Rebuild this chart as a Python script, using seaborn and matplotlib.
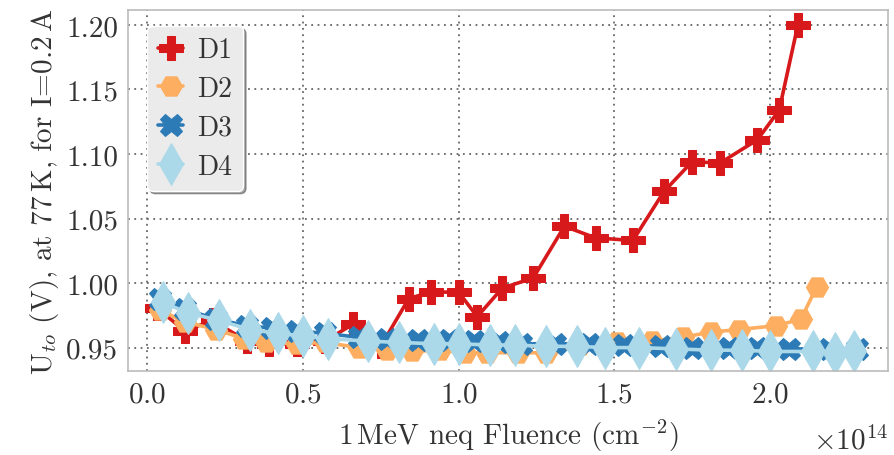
import matplotlib
matplotlib.use("Agg")
import matplotlib.pyplot as plt
import matplotlib.transforms as mtransforms
import seaborn as sns
import pandas as pd
from matplotlib.ticker import ScalarFormatter, MultipleLocator

# Fluence values in units of 1e14 n_eq/cm^2, threshold voltages in V
d1_x = [0.03, 0.12, 0.21, 0.32, 0.39, 0.48, 0.57, 0.66, 0.75, 0.84, 0.91, 1.00,
        1.06, 1.14, 1.24, 1.34, 1.44, 1.56, 1.66, 1.75, 1.84, 1.96, 2.03, 2.09]
d1_y = [0.981, 0.963, 0.971, 0.955, 0.953, 0.953, 0.955, 0.968, 0.951, 0.988, 0.993, 0.993,
        0.974, 0.996, 1.004, 1.044, 1.035, 1.033, 1.071, 1.094, 1.093, 1.111, 1.134, 1.200]

d2_x = [0.04, 0.12, 0.22, 0.31, 0.38, 0.48, 0.57, 0.68, 0.77, 0.85, 0.94, 1.02,
        1.09, 1.19, 1.28, 1.39, 1.51, 1.62, 1.72, 1.81, 1.90, 2.02, 2.10, 2.15]
d2_y = [0.979, 0.970, 0.964, 0.957, 0.954, 0.953, 0.954, 0.950, 0.948, 0.947, 0.948, 0.946,
        0.946, 0.946, 0.946, 0.952, 0.954, 0.955, 0.958, 0.962, 0.964, 0.967, 0.972, 0.997]

d3_x = [0.04, 0.12, 0.22, 0.32, 0.40, 0.48, 0.57, 0.68, 0.77, 0.87, 0.97, 1.05,
        1.13, 1.20, 1.31, 1.42, 1.53, 1.65, 1.75, 1.87, 1.96, 2.06, 2.19, 2.28]
d3_y = [0.988, 0.980, 0.972, 0.967, 0.965, 0.963, 0.961, 0.958, 0.957, 0.956, 0.956, 0.955,
        0.954, 0.953, 0.953, 0.953, 0.952, 0.951, 0.950, 0.950, 0.950, 0.949, 0.949, 0.949]

d4_x = [0.05, 0.13, 0.23, 0.33, 0.42, 0.50, 0.58, 0.71, 0.81, 0.92, 1.00, 1.10,
        1.18, 1.28, 1.38, 1.47, 1.58, 1.70, 1.81, 1.91, 2.00, 2.14, 2.21, 2.27]
d4_y = [0.985, 0.977, 0.971, 0.964, 0.961, 0.959, 0.957, 0.955, 0.954, 0.953, 0.953, 0.952,
        0.952, 0.951, 0.951, 0.950, 0.950, 0.949, 0.948, 0.948, 0.947, 0.947, 0.946, 0.947]

names = ["D1", "D2", "D3", "D4"]
colors = ["#d7191c", "#fdae61", "#2c7bb6", "#abd9e9"]
markers = ["P", "H", "X", "d"]
msizes = [17, 16, 16, 21]
series = [(d1_x, d1_y), (d2_x, d2_y), (d3_x, d3_y), (d4_x, d4_y)]

FS = 21

sns.set_theme(style="white")
plt.rcParams["font.family"] = ["cmr10", "DejaVu Serif"]
plt.rcParams["mathtext.fontset"] = "cm"
plt.rcParams["axes.formatter.use_mathtext"] = True
plt.rcParams["axes.unicode_minus"] = False

fig = plt.figure(figsize=(8.95, 4.56), dpi=100)
ax = fig.add_axes([0.143, 0.184, 0.849, 0.792])

for name, col, mk, ms, (xs, ys) in zip(names, colors, markers, msizes, series):
    df = pd.DataFrame({"x": [v * 1e14 for v in xs], "y": ys})
    sns.lineplot(data=df, x="x", y="y", ax=ax, color=col, marker=mk,
                 markersize=ms, markeredgecolor=col, linewidth=2.6,
                 label=name, sort=False)

ax.set_xlim(-0.062e14, 2.379e14)
ax.set_ylim(0.9318, 1.2116)
ax.xaxis.set_major_locator(MultipleLocator(0.5e14))
ax.yaxis.set_major_locator(MultipleLocator(0.05))
ax.yaxis.set_major_formatter(plt.FormatStrFormatter("%.2f"))
fmt = ScalarFormatter(useMathText=True)
fmt.set_powerlimits((0, 0))
ax.xaxis.set_major_formatter(fmt)
off = ax.xaxis.get_offset_text()
off.set_fontsize(FS)
off.set_color("#333333")
off.set_transform(off.get_transform() +
                  mtransforms.ScaledTranslation(0, -10 / 72, fig.dpi_scale_trans))

ax.grid(True, linestyle=(0, (1, 2.5)), color="#666666", linewidth=1.3)
for sp in ax.spines.values():
    sp.set_color("#bbbbbb")
    sp.set_linewidth(1.2)
ax.tick_params(axis="both", which="major", direction="inout", length=7,
               width=1.2, color="#555555", labelsize=FS, labelcolor="#333333")

ax.set_xlabel(r"1$\,$MeV neq Fluence (cm$^{-2}$)", fontsize=FS, color="#333333",
              labelpad=7)
ax.set_ylabel(r"U$_{to}$ (V), at 77$\,$K, for I=0.2$\,$A", fontsize=FS, color="#333333")

leg = ax.legend(loc="upper left", fontsize=20, frameon=True, shadow=True,
                fancybox=True, facecolor="#ebebeb", edgecolor="#ffffff",
                handlelength=0.9, handletextpad=0.5, borderpad=0.4,
                labelspacing=0.45, borderaxespad=0.0,
                bbox_to_anchor=(0.025, 0.956))
leg.get_frame().set_alpha(1.0)
for t in leg.get_texts():
    t.set_color("#333333")

fig.savefig("out.png", dpi=100)
